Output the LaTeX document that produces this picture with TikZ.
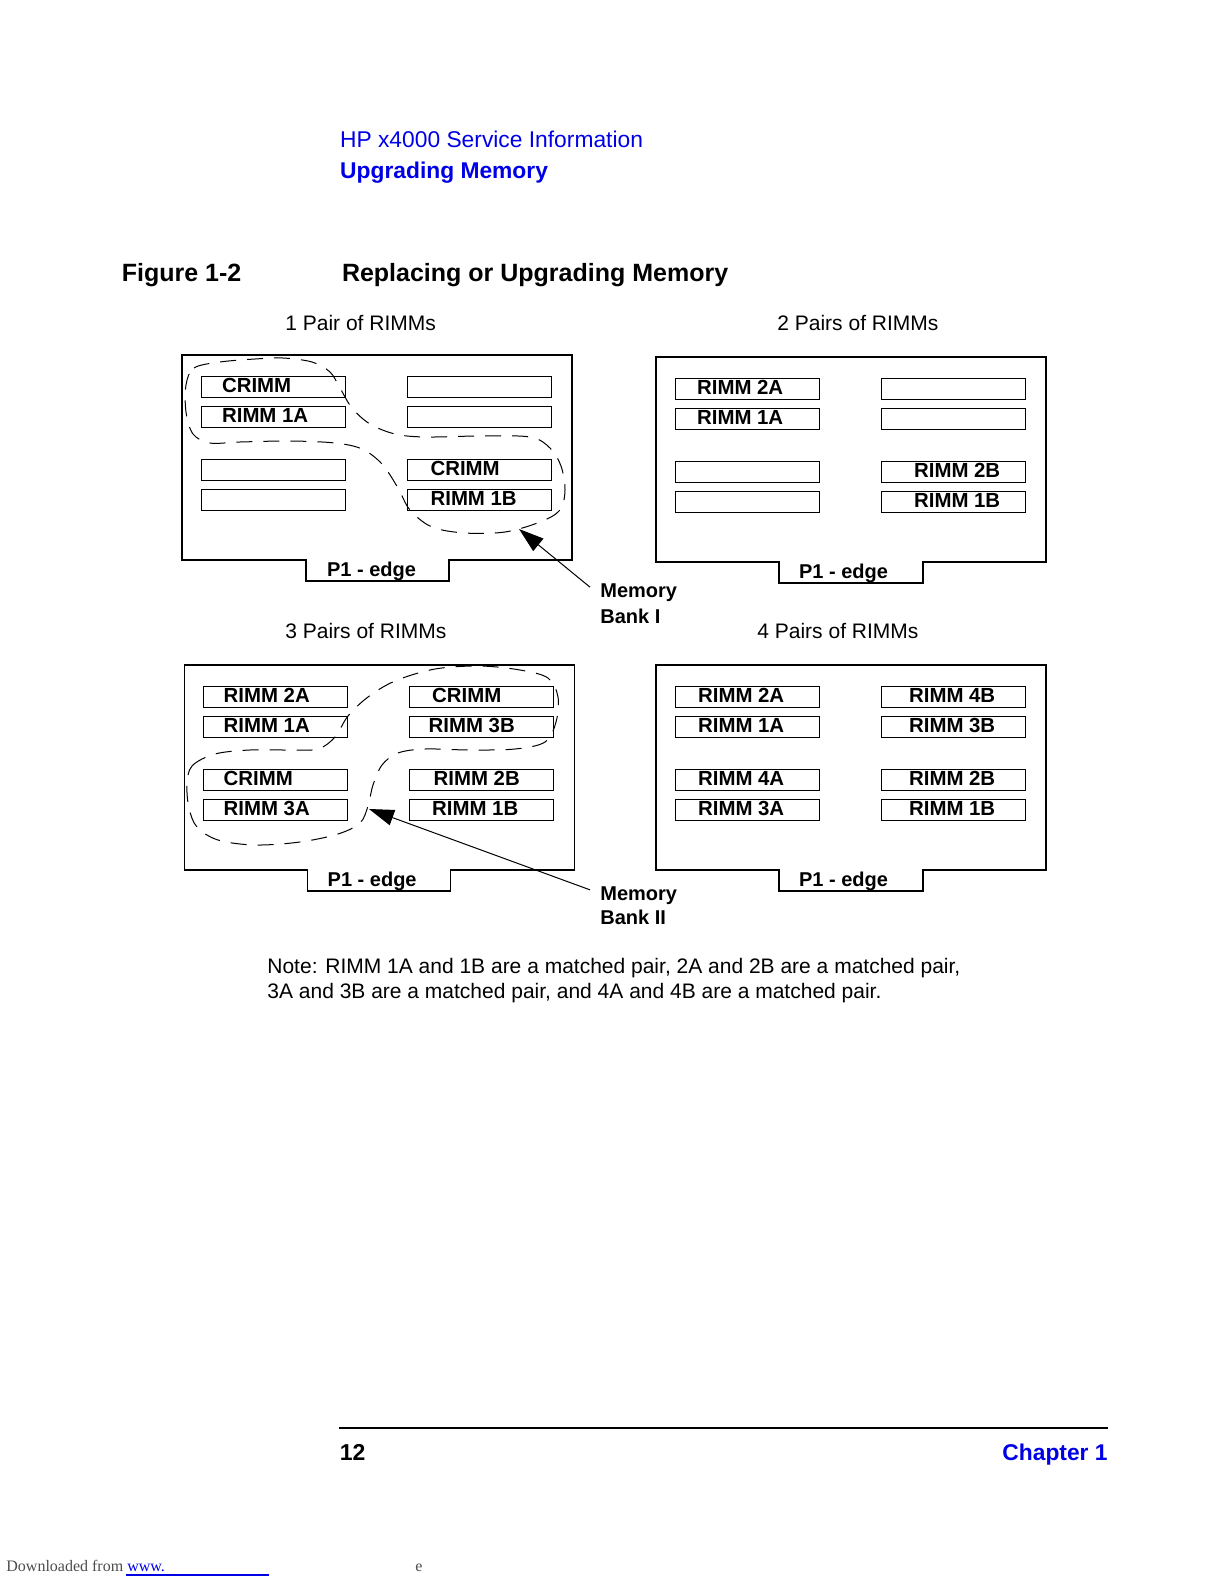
\documentclass[tikz,border=0pt]{standalone}
\usepackage{fontspec}
\setmainfont{Liberation Sans}
\newfontfamily\dlfont{Liberation Serif}
\usetikzlibrary{arrows.meta}
\definecolor{hpblue}{RGB}{0,0,230}
\tikzset{
  board/.style={line width=0.8pt},
  slotbox/.style={line width=0.5pt},
  rimm/.style={anchor=base west, inner sep=0pt, font=\fontsize{10.2}{12}\selectfont\bfseries},
  edgelabel/.style={anchor=base west, inner sep=0pt, font=\fontsize{10}{12}\selectfont\bfseries},
  pairs/.style={anchor=base west, inner sep=0pt, font=\fontsize{10.5}{12}\selectfont},
  bankloop/.style={line width=0.5pt, dash pattern=on 8pt off 5.5pt},
  banklabel/.style={anchor=base west, inner xsep=5pt, inner ysep=0pt, font=\fontsize{10}{12}\selectfont\bfseries},
  bankarrow/.style={line width=0.5pt, -{Triangle[length=12.5pt,width=8pt]}},
  pagetext/.style={anchor=base west, inner sep=0pt},
}

\begin{document}
\begin{tikzpicture}[x=0.5pt,y=-0.5pt]
\useasboundingbox (0,0) rectangle (1224,1584);

% page header
\node[pagetext, text=hpblue, font=\fontsize{11.4}{13}\selectfont] (doctitle) at (339.7,147.5) {HP x4000 Service Information};
\node[pagetext, text=hpblue, font=\fontsize{11.4}{13}\selectfont\bfseries] (section) at (339.8,178.8) {Upgrading Memory};
\node[pagetext, font=\fontsize{12.5}{14}\selectfont\bfseries] (fignum) at (121.4,281.8) {Figure 1-2};
\node[pagetext, font=\fontsize{12.5}{14}\selectfont\bfseries] (figtitle) at (341.6,281.8) {Replacing or Upgrading Memory};

% 1 pair of RIMMs
\node[pairs] (onepair) at (285,330) {1 Pair of RIMMs};
\begin{scope}[shift={(181.7,355)}]
  \draw[board] (0,0) -- (390,0) -- (390,205) -- (267,205) -- (267,226) -- (124,226) -- (124,205) -- (0,205) -- cycle;
  \foreach \sx in {19.5,225.5}
    \foreach \sy in {21,51,104,134}
      \draw[slotbox] (\sx,\sy) rectangle ++(144,21);
  \node[rimm] (onecrimmA) at (40,37) {CRIMM};
  \node[rimm] (onerimmIA) at (40,67) {RIMM 1A};
  \node[rimm] (onecrimmB) at (248.5,120) {CRIMM};
  \node[rimm] (onerimmIB) at (248.5,150) {RIMM 1B};
  \node[edgelabel] (oneedge) at (145,221) {P1 - edge};
\end{scope}
\draw[bankloop] plot[smooth cycle, tension=0.55] coordinates {(186,385) (194,368) (220,362) (255,359) (283,358) (312,362) (330,372) (340,388) (352,408) (370,424) (395,434) (425,437) (480,436) (530,437) (550,448) (561,466) (565,490) (560,510) (540,522) (505,532) (465,533) (432,527) (410,510) (398,488) (382,464) (362,449) (335,443) (290,441) (240,442) (210,443) (193,434) (186,412)};

% 2 pairs of RIMMs
\node[pairs] (twopair) at (777,330) {2 Pairs of RIMMs};
\begin{scope}[shift={(655.7,357)}]
  \draw[board] (0,0) -- (390,0) -- (390,205) -- (267,205) -- (267,226) -- (123,226) -- (123,205) -- (0,205) -- cycle;
  \foreach \sx in {19.5,225.5}
    \foreach \sy in {21,51,104,134}
      \draw[slotbox] (\sx,\sy) rectangle ++(144,21);
  \node[rimm] (tworimmIIA) at (41,37) {RIMM 2A};
  \node[rimm] (tworimmIA) at (41,67) {RIMM 1A};
  \node[rimm] (tworimmIIB) at (258,120) {RIMM 2B};
  \node[rimm] (tworimmIB) at (258,150) {RIMM 1B};
  \node[edgelabel] (twoedge) at (143,221) {P1 - edge};
\end{scope}

% memory bank I
\node[banklabel] (bankI) at (590,597.3) {Memory};
\node[banklabel] (bankIb) at (590,623.3) {Bank I};
\coordinate (bankItip) at (519,529);
\draw[bankarrow] ([yshift=-2pt]bankI.north west) -- (bankItip);

% 3 pairs of RIMMs
\node[pairs] (threepair) at (285,638) {3 Pairs of RIMMs};
\begin{scope}[shift={(184.3,665)}]
  \draw[board] (0,0) -- (390,0) -- (390,205) -- (266,205) -- (266,226) -- (123,226) -- (123,205) -- (0,205) -- cycle;
  \foreach \sx in {19.5,225.5}
    \foreach \sy in {21,51,104,134}
      \draw[slotbox] (\sx,\sy) rectangle ++(144,21);
  \node[rimm] (threerimmIIA) at (39,37) {RIMM 2A};
  \node[rimm] (threerimmIA) at (39,67) {RIMM 1A};
  \node[rimm] (threecrimmB) at (247.5,37) {CRIMM};
  \node[rimm] (threerimmIIIB) at (244,67) {RIMM 3B};
  \node[rimm] (threecrimmA) at (39,120) {CRIMM};
  \node[rimm] (threerimmIIIA) at (39,150) {RIMM 3A};
  \node[rimm] (threerimmIIB) at (249,120) {RIMM 2B};
  \node[rimm] (threerimmIB) at (247.5,150) {RIMM 1B};
  \node[edgelabel] (threeedge) at (143,221) {P1 - edge};
\end{scope}
\draw[bankloop] plot[smooth cycle, tension=0.55] coordinates {(187,785) (192,766) (215,754) (250,750) (290,750) (318,749) (335,737) (348,716) (368,697) (395,681) (435,669) (480,666) (520,670) (548,678) (558,697) (556,722) (545,742) (515,749) (470,750) (425,749) (398,753) (382,765) (373,785) (368,806) (360,823) (338,834) (300,842) (255,845) (218,840) (197,827) (189,808)};

% 4 pairs of RIMMs
\node[pairs] (fourpair) at (757,638) {4 Pairs of RIMMs};
\begin{scope}[shift={(655.7,665)}]
  \draw[board] (0,0) -- (390,0) -- (390,205) -- (267,205) -- (267,226) -- (123,226) -- (123,205) -- (0,205) -- cycle;
  \foreach \sx in {19.5,225.5}
    \foreach \sy in {21,51,104,134}
      \draw[slotbox] (\sx,\sy) rectangle ++(144,21);
  \node[rimm] (fourrimmIIA) at (42,37) {RIMM 2A};
  \node[rimm] (fourrimmIA) at (42,67) {RIMM 1A};
  \node[rimm] (fourrimmIVB) at (253,37) {RIMM 4B};
  \node[rimm] (fourrimmIIIB) at (253,67) {RIMM 3B};
  \node[rimm] (fourrimmIVA) at (42,120) {RIMM 4A};
  \node[rimm] (fourrimmIIIA) at (42,150) {RIMM 3A};
  \node[rimm] (fourrimmIIB) at (253,120) {RIMM 2B};
  \node[rimm] (fourrimmIB) at (253,150) {RIMM 1B};
  \node[edgelabel] (fouredge) at (143,221) {P1 - edge};
\end{scope}

% memory bank II
\node[banklabel] (bankII) at (590,900) {Memory};
\node[banklabel] (bankIIb) at (590,924) {Bank II};
\coordinate (bankIItip) at (369,809);
\draw[bankarrow] ([yshift=-2pt]bankII.north west) -- (bankIItip);

% note
\node[pagetext, font=\fontsize{10.5}{12}\selectfont] (noteI) at (267,973) {Note: RIMM 1A and 1B are a matched pair, 2A and 2B are a matched pair,};
\node[pagetext, font=\fontsize{10.5}{12}\selectfont] (noteII) at (267,998.4) {3A and 3B are a matched pair, and 4A and 4B are a matched pair.};

% page footer
\draw[line width=1.4pt] (339,1428) -- (1108,1428);
\node[pagetext, font=\fontsize{11.5}{13}\selectfont\bfseries] (pagenum) at (339.5,1460.5) {12};
\node[pagetext, anchor=base east, text=hpblue, font=\fontsize{11.4}{13}\selectfont\bfseries] (chapter) at (1108,1460.5) {Chapter 1};
\node[pagetext, text=black!70, font=\dlfont\fontsize{8}{10}\selectfont] (dl) at (6,1571) {Downloaded from \textcolor{hpblue}{www.}};
\draw[hpblue, line width=0.6pt] (126,1575) -- (269,1575);
\node[pagetext, text=black!70, font=\dlfont\fontsize{8}{10}\selectfont] (dltail) at (415,1571) {e};
\end{tikzpicture}
\end{document}
